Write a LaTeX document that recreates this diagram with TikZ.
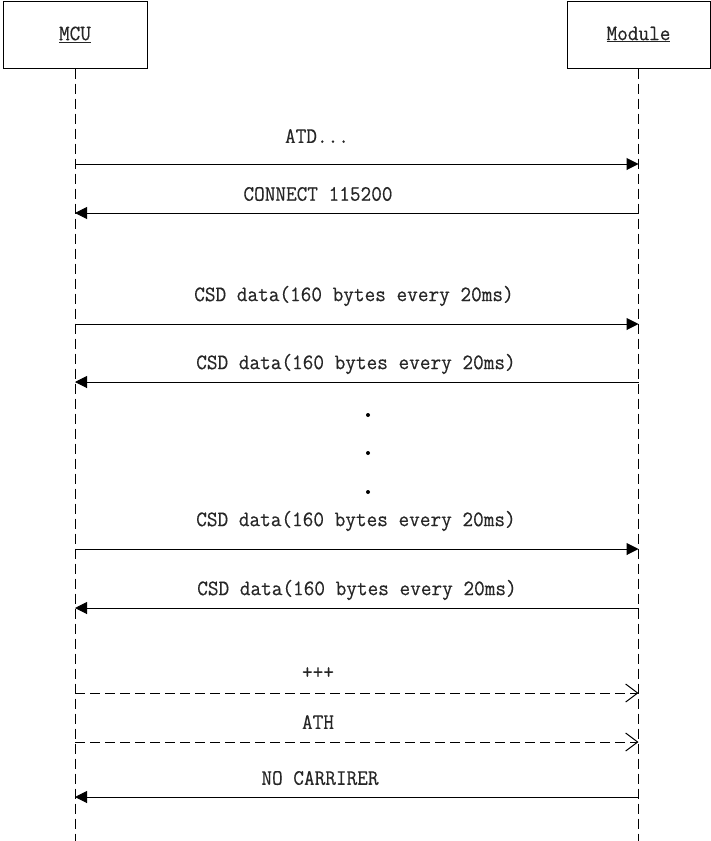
\documentclass[tikz,border=0pt]{standalone}
\usepackage{fontspec}
\setmainfont{Latin Modern Mono}[FakeStretch=0.94,FakeBold=0.4]
\usetikzlibrary{arrows.meta}
\begin{document}
\begin{tikzpicture}[x=1pt,y=-1pt,
  font=\fontsize{22}{26}\selectfont,
  box/.style={draw, line width=1pt, minimum height=67pt, inner sep=0pt},
  life/.style={line width=1pt, dash pattern=on 10pt off 5pt},
  sync/.style={line width=1pt, -{Triangle[length=12pt,width=12pt]}},
  async/.style={line width=1pt, dash pattern=on 10pt off 5pt, -{Straight Barb[length=12pt,width=18pt,line width=1pt]}},
  lbl/.style={inner sep=0pt, anchor=center, text=black!85}]
\useasboundingbox (0,0) rectangle (711,841);
\node[box, minimum width=144pt, text=black!85] (mcu) at (75,34.5) {\underline{MCU}};
\node[box, minimum width=143pt, text=black!85] (mod) at (638.5,34.5) {\underline{Module}};
\coordinate (mcuend) at (75,841);
\coordinate (modend) at (638.5,841);
\draw[life] (mcu.south) -- (mcuend);
\draw[life] (mod.south) -- (modend);
% messages
\foreach \n/\y in {1/164,2/213,3/324,4/382,5/549,6/608,7/693,8/742,9/797}{
  \coordinate (a\n) at (75,\y);
  \coordinate (b\n) at (638.5,\y);
}
\draw[sync] (a1) -- (b1);
\draw[sync] (b2) -- (a2);
\draw[sync] (a3) -- (b3);
\draw[sync] (b4) -- (a4);
\draw[sync] (a5) -- (b5);
\draw[sync] (b6) -- (a6);
\draw[async] (a7) -- (b7);
\draw[async] (a8) -- (b8);
\draw[sync] (b9) -- (a9);
\node[lbl] (t1) at (317,136) {ATD...};
\node[lbl] (t2) at (318,194) {CONNECT 115200};
\node[lbl] (t3) at (354,296) {CSD data(160 bytes every 20ms)};
\node[lbl] (t4) at (356,364) {CSD data(160 bytes every 20ms)};
\node[lbl] (t5) at (356,521) {CSD data(160 bytes every 20ms)};
\node[lbl] (t6) at (357,590) {CSD data(160 bytes every 20ms)};
\node[lbl] (t7) at (318,673) {+++};
\node[lbl] (t8) at (318,722) {ATH};
\node[lbl] (t9) at (320,778) {NO CARRIRER};
\fill (368,415) circle (2pt);
\fill (368,453) circle (2pt);
\fill (368,492) circle (2pt);
\end{tikzpicture}
\end{document}
